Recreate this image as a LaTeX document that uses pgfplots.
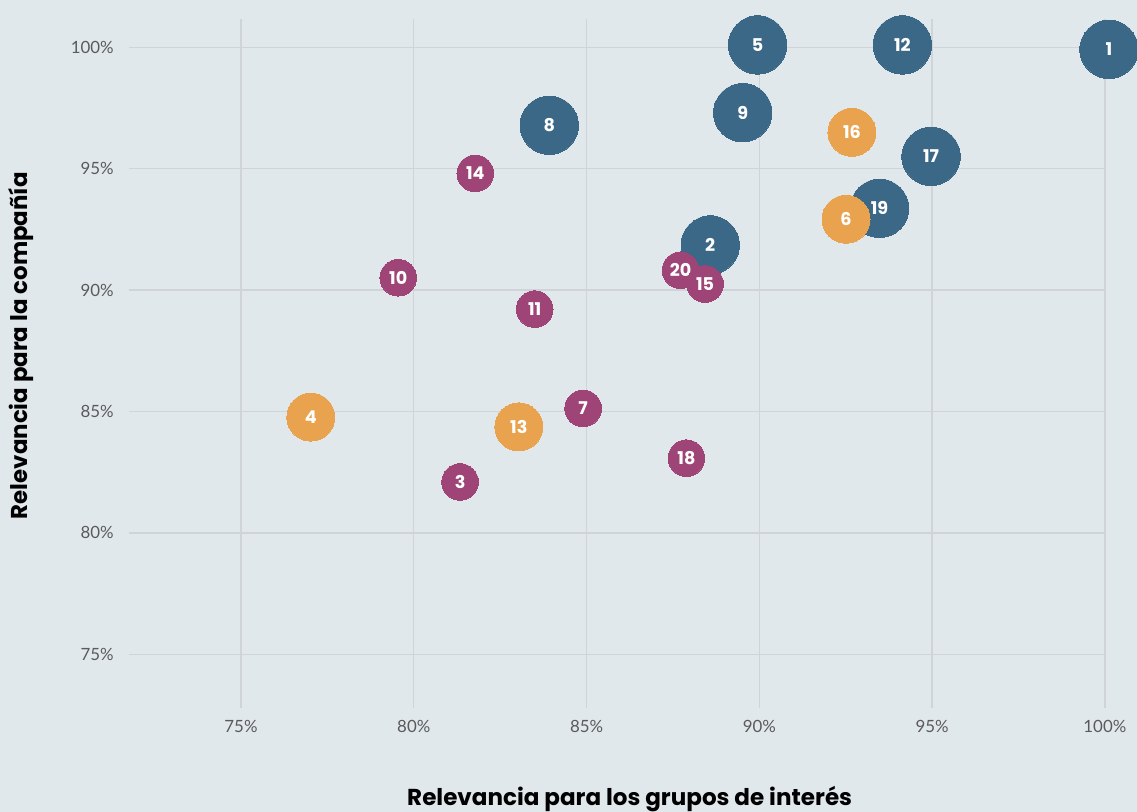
\documentclass[border=0pt]{standalone}
\usepackage{pgfplots}
\pgfplotsset{compat=1.18}
\usepackage{pgfplotstable}
\usepackage{fontspec}
\setmainfont{Lato}
\newfontfamily\pop{Poppins}
\definecolor{bgc}{RGB}{225,232,236}
\definecolor{gridc}{RGB}{208,212,216}
\definecolor{cblue}{RGB}{59,104,135}
\definecolor{corange}{RGB}{233,162,77}
\definecolor{cpurple}{RGB}{158,68,118}
\definecolor{tickc}{RGB}{90,90,90}

\pgfplotstableread{
x y label
100.12 99.92 1
89.95 100.10 5
94.14 100.10 12
89.52 97.31 9
83.92 96.79 8
94.97 95.51 17
93.48 93.37 19
88.58 91.86 2
}\blueT
\pgfplotstableread{
x y label
92.68 96.50 16
92.51 92.92 6
77.02 84.77 4
83.04 84.37 13
}\orangeT
\pgfplotstableread{
x y label
81.78 94.81 14
87.72 90.82 20
88.43 90.25 15
79.55 90.51 10
83.50 89.22 11
84.90 85.13 7
87.89 83.08 18
81.34 82.10 3
}\purpleT

\begin{document}
\begin{tikzpicture}
\fill[bgc] (-32mm,-26mm) rectangle (252.25mm,177mm);
\begin{axis}[
  at={(0,0)}, anchor=south west,
  scale only axis,
  width=252.25mm, height=177mm,
  xmin=71.73, xmax=100.93,
  ymin=72.79, ymax=101.95,
  axis line style={draw=none},
  tick style={draw=none},
  major tick length=0pt,
  /pgf/number format/assume math mode=true,
  xtick={75,80,85,90,95,100},
  ytick={75,80,85,90,95,100},
  xticklabel={\pgfmathprintnumber{\tick}\%},
  yticklabel={\pgfmathprintnumber{\tick}\%},
  xticklabel style={font=\fontsize{12}{14}\selectfont, text=tickc, anchor=base, inner sep=0pt, yshift=-6.25mm},
  yticklabel style={font=\fontsize{12}{14}\selectfont, text=tickc, anchor=east, inner sep=0pt, xshift=-3.5mm},
  xlabel={Relevancia para los grupos de interés},
  ylabel={Relevancia para la compañía},
  xlabel style={font=\pop\bfseries\fontsize{16.4}{19}\selectfont, at={(axis description cs:0.4972,-0.1384)}, anchor=base, inner sep=0pt},
  ylabel style={font=\pop\bfseries\fontsize{16.3}{19}\selectfont, at={(axis description cs:-0.0991,0.5117)}, anchor=base, inner sep=0pt},
  clip=false,
  nodes near coords,
  point meta=explicit symbolic,
  nodes near coords align=center,
  every node near coord/.append style={font=\pop\bfseries\fontsize{12.5}{14}\selectfont, text=white, anchor=center, inner sep=0pt},
]
\pgfplotsinvokeforeach{75,80,85,90,95,100}{
  \draw[gridc, line width=1pt] (axis cs:#1,101.17) -- (axis cs:#1,72.79);
  \draw[gridc, line width=1pt] (axis cs:71.75,#1) -- (axis cs:100,#1);
}
\addplot[only marks, mark=*, color=cblue, mark size=20.77pt, mark options={fill=cblue, draw=cblue, line width=0pt}]
  table[x=x, y=y, meta=label] {\blueT};
\addplot[only marks, mark=*, color=corange, mark size=17.07pt, mark options={fill=corange, draw=corange, line width=0pt}]
  table[x=x, y=y, meta=label] {\orangeT};
\addplot[only marks, mark=*, color=cpurple, mark size=13.02pt, mark options={fill=cpurple, draw=cpurple, line width=0pt}]
  table[x=x, y=y, meta=label] {\purpleT};
\end{axis}
\pgfresetboundingbox
\useasboundingbox (-32mm,-26mm) rectangle (252.25mm,177mm);
\end{tikzpicture}
\end{document}
